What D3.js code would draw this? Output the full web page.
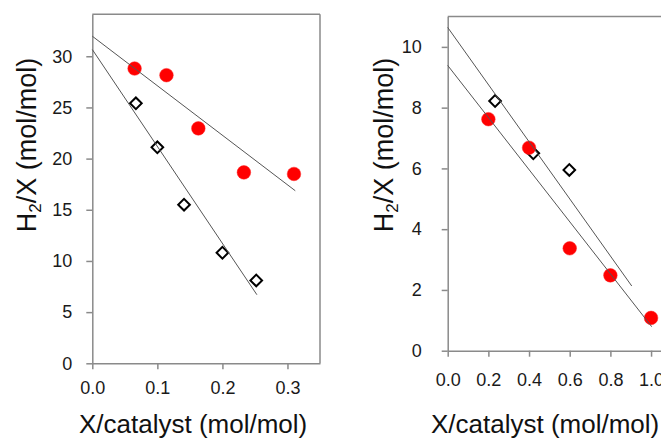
<!DOCTYPE html>
<html><head><meta charset="utf-8">
<script src="https://cdn.jsdelivr.net/npm/d3@7"></script>
<style>
html,body{margin:0;padding:0;background:#fff;overflow:hidden}
text{font-family:"Liberation Sans",Arial,sans-serif}
</style></head>
<body><svg id="c" width="661" height="439"></svg>
<script>
// ---- Left panel data ----
const leftCircleX = [0.065, 0.114, 0.163, 0.233, 0.310];
const leftCircleY = [28.8, 28.15, 22.95, 18.65, 18.5];
const leftDiamondX = [0.067, 0.100, 0.141, 0.200, 0.252];
const leftDiamondY = [25.4, 21.1, 15.5, 10.8, 8.1];
const leftCircleFit = [[0, 31.96], [0.312, 16.86]];
const leftDiamondFit = [[0, 30.66], [0.253, 6.70]];
const leftXTicks = [0.0, 0.1, 0.2, 0.3];
const leftYTicks = [0, 5, 10, 15, 20, 25, 30];

// ---- Right panel data ----
const rightCircleX = [0.2, 0.4, 0.6, 0.8, 1.0];
const rightCircleY = [7.62, 6.68, 3.37, 2.48, 1.08];
const rightDiamondX = [0.233, 0.421, 0.598];
const rightDiamondY = [8.22, 6.50, 5.95];
const rightCircleFit = [[0, 9.39], [1.003, 0.79]];
const rightDiamondFit = [[0, 10.64], [0.905, 2.13]];
const rightXTicks = [0.0, 0.2, 0.4, 0.6, 0.8, 1.0];
const rightYTicks = [0, 2, 4, 6, 8, 10];

const xLabel = "X/catalyst (mol/mol)";

const svg = d3.select("#c");
const frameColor = "#8a8a8a";

function panel(o) {
  const g = svg.append("g");
  const x = d3.scaleLinear().domain(o.xDom).range([o.left, o.right]);
  const y = d3.scaleLinear().domain(o.yDom).range([o.bottom, o.top]);

  // frame top/right
  g.append("line").attr("x1", o.left).attr("x2", o.right).attr("y1", o.top).attr("y2", o.top)
    .attr("stroke", frameColor).attr("stroke-width", 1.5);
  g.append("line").attr("x1", o.right).attr("x2", o.right).attr("y1", o.top).attr("y2", o.bottom)
    .attr("stroke", frameColor).attr("stroke-width", 1.5);

  const xa = g.append("g").attr("transform", `translate(0,${o.bottom})`)
    .call(d3.axisBottom(x).tickValues(o.xTicks).tickFormat(d3.format(".1f"))
      .tickSize(6).tickSizeOuter(0).tickPadding(o.xPad));
  const ya = g.append("g").attr("transform", `translate(${o.left},0)`)
    .call(d3.axisLeft(y).tickValues(o.yTicks).tickFormat(d3.format("d"))
      .tickSize(6).tickSizeOuter(0).tickPadding(o.yPad));
  [xa, ya].forEach(a => {
    a.select(".domain").attr("stroke", frameColor).attr("stroke-width", 1.5);
    a.selectAll(".tick line").attr("stroke", frameColor).attr("stroke-width", 1.5);
    a.selectAll(".tick text").attr("fill", "#1a1a1a").style("font-size", "18px")
      .style("font-family", "'Liberation Sans', Arial, sans-serif");
  });

  // diamonds
  const dpts = o.dX.map((v, i) => [v, o.dY[i]]);
  g.selectAll(".dia").data(dpts).enter().append("path")
    .attr("d", d3.symbol().type(d3.symbolSquare).size(68))
    .attr("transform", d => `translate(${x(d[0])},${y(d[1])}) rotate(45)`)
    .attr("fill", "#fff").attr("stroke", "#000").attr("stroke-width", 2);
  // circles
  const cpts = o.cX.map((v, i) => [v, o.cY[i]]);
  g.selectAll(".cir").data(cpts).enter().append("circle")
    .attr("cx", d => x(d[0])).attr("cy", d => y(d[1])).attr("r", 6.8)
    .attr("fill", "#ff0000").attr("stroke", "#f22").attr("stroke-opacity", 0.5).attr("stroke-width", 1);
  // fit lines
  const line = d3.line().x(d => x(d[0])).y(d => y(d[1]));
  [o.cFit, o.dFit].forEach(f => {
    g.append("path").attr("d", line(f)).attr("fill", "none")
      .attr("stroke", "#555").attr("stroke-width", 1);
  });

  // labels
  const yl = g.append("text")
    .attr("transform", `translate(${o.yLabX},${o.yLabY}) rotate(-90)`)
    .attr("text-anchor", "middle").attr("fill", "#111").style("font-size", "27px");
  yl.append("tspan").text("H");
  yl.append("tspan").text("2").style("font-size", "17px").attr("dy", 5);
  yl.append("tspan").text("/X (mol/mol)").attr("dy", -5);

  g.append("text").attr("x", o.xLabX).attr("y", 433).attr("text-anchor", "start")
    .attr("fill", "#111").style("font-size", "26px").text(xLabel);
}

panel({
  xDom: [0, 0.35], yDom: [0, 34.1], left: 92.3, right: 320, top: 14.3, bottom: 363.3,
  xTicks: leftXTicks, yTicks: leftYTicks, xPad: 12, yPad: 14,
  cX: leftCircleX, cY: leftCircleY, dX: leftDiamondX, dY: leftDiamondY,
  cFit: leftCircleFit, dFit: leftDiamondFit, yLabX: 36, yLabY: 145, xLabX: 79
});
panel({
  xDom: [0, 1.1], yDom: [0, 11], left: 447.7, right: 671.4, top: 16.5, bottom: 350.7,
  xTicks: rightXTicks, yTicks: rightYTicks, xPad: 17, yPad: 20,
  cX: rightCircleX, cY: rightCircleY, dX: rightDiamondX, dY: rightDiamondY,
  cFit: rightCircleFit, dFit: rightDiamondFit, yLabX: 393, yLabY: 145, xLabX: 431
});
</script></body></html>
